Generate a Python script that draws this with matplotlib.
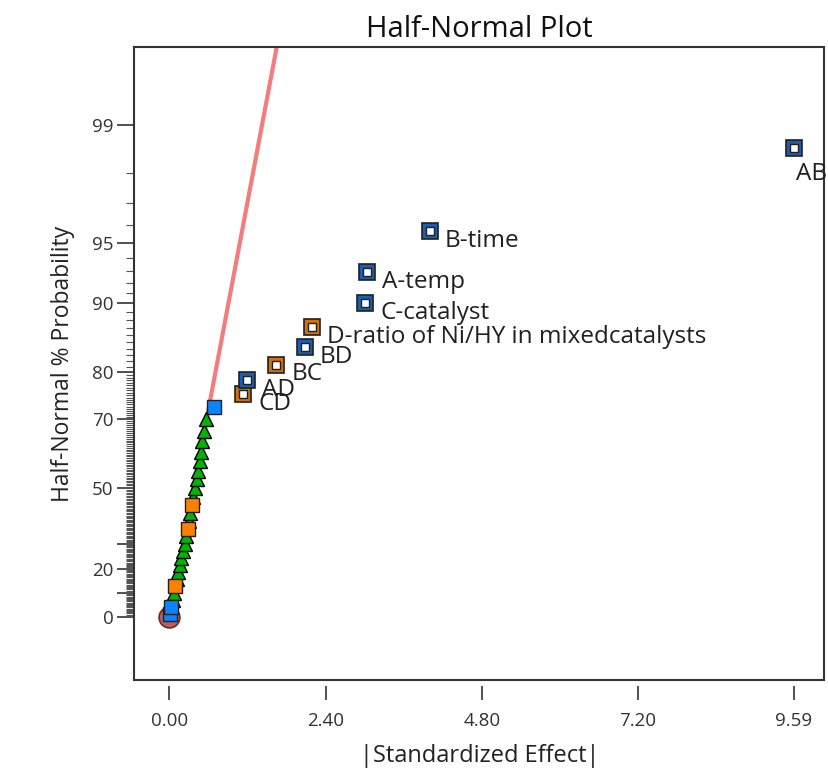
#---------------------HALF-NORMAL PLOT OF STANDARDIZED EFFECTS----------------------
import matplotlib
matplotlib.use("Agg")
import matplotlib.pyplot as plt
from statistics import NormalDist

#|standardized effect| of every term, smallest first
effect = [0.015, 0.02, 0.05, 0.07, 0.09, 0.115, 0.14, 0.16, 0.185, 0.21,
	0.235, 0.26, 0.285, 0.305, 0.325, 0.345, 0.37, 0.395, 0.42, 0.445,
	0.47, 0.49, 0.51, 0.535, 0.56, 0.69, 1.13, 1.19, 1.64, 2.08,
	2.19, 3.01, 3.03, 4.00, 9.59]

#half-normal % probability of each term
prob = [1.4, 4.3, 7.1, 10.0, 12.9, 15.7, 18.6, 21.4, 24.3, 27.1,
	30.0, 32.9, 35.7, 38.6, 41.4, 44.3, 47.1, 50.0, 52.9, 55.7,
	58.6, 61.4, 64.3, 67.1, 70.0, 72.9, 75.7, 78.6, 81.4, 84.3,
	87.1, 90.0, 92.9, 95.7, 98.6]

#neg = negative effect, pos = positive effect, err = error estimate
kind = ["neg", "neg", "err", "err", "pos", "err", "err", "err", "err", "err",
	"err", "err", "pos", "err", "err", "pos", "err", "err", "err", "err",
	"err", "err", "err", "err", "err", "neg", "pos", "neg", "pos", "neg",
	"pos", "neg", "neg", "neg", "neg"]

labels = [""] * 26 + ["CD", "AD", "BC", "BD", "D-ratio of Ni/HY in mixedcatalysts",
	"C-catalyst", "A-temp", "B-time", "AB"]

fit_slope = 1.81   # line through the error estimates

major_p = [0, 10, 20, 30, 50, 70, 80, 90, 95, 99]
major_lab = ["0", "", "20", "", "50", "70", "80", "90", "95", "99"]
#fine ticks: half percent below 80, whole percent above
minor_p = [k / 2.0 for k in range(1, 160)] + list(range(80, 99))
minor_p = [p for p in minor_p if p not in major_p]

x_ticks = [0.00, 2.40, 4.80, 7.20, 9.59]


def hn(p):
	# half-normal quantile of a percent probability
	return NormalDist().inv_cdf(0.5 + p / 200.0)


plt.rcParams['font.family'] = ['Open Sans', 'DejaVu Sans']

fig = plt.figure(figsize=(8.29, 7.74), dpi=100)
ax = fig.add_axes([0.1622, 0.1214, 0.832, 0.8179])

xmin, xmax = -0.535, 10.06
ymin, ymax = -0.33, 2.987
ax.set_xlim(xmin, xmax)
ax.set_ylim(ymin, ymax)

# fitted line
ax.plot([0, ymax / fit_slope], [0, ymax], color="#f47c7c", lw=3, zorder=2)

# origin marker
ax.plot(0, 0, "o", ms=15, mfc="#b5605f", mec="#6e2a2a", mew=1.2, zorder=3)

blue_fill = "#0a84ff"
orange_fill = "#ff8000"
blue_dark = "#1a5faf"
orange_dark = "#d2700a"

for i in range(len(effect)):
	x = effect[i]
	y = hn(prob[i])
	if labels[i] != "":
		outer = blue_dark if kind[i] == "neg" else orange_dark
		ax.plot(x, y, "s", ms=11, mfc=outer, mec="#202020", mew=1.2, zorder=5)
		ax.plot(x, y, "s", ms=5.5, mfc="white", mec="#202020", mew=1.0, zorder=6)
		if labels[i] == "AB":
			off = (2, -19)
		else:
			off = (11, -7)
		ax.annotate(labels[i], (x, y), xytext=off, textcoords="offset points",
			ha="left", va="center", fontsize=17.5, color="#202020", zorder=7)
	elif kind[i] == "err":
		ax.plot(x, y, "^", ms=10.5, mfc="#00b400", mec="black", mew=1.0, zorder=4)
	else:
		col = blue_fill if kind[i] == "neg" else orange_fill
		ax.plot(x, y, "s", ms=9.5, mfc=col, mec="#202020", mew=1.0, zorder=5)

# y axis on the half-normal scale
ax.set_yticks([hn(p) for p in major_p])
ax.set_yticklabels(major_lab)
ax.set_yticks([hn(p) for p in minor_p], minor=True)
ax.tick_params(axis="y", which="major", length=12, width=1.2, pad=3, labelsize=13.5, colors="#333333")
ax.tick_params(axis="y", which="minor", length=6, width=0.8, colors="#555555")

# x axis ticks sit a little away from the box
ax.set_xticks(x_ticks)
ax.set_xticklabels(["%.2f" % t for t in x_ticks])
ax.spines['bottom'].set_position(('outward', 4))
ax.spines['bottom'].set_visible(False)
ax.plot([0, 1], [0, 0], transform=ax.transAxes, color="#333333", lw=1.5, clip_on=False, zorder=10)
ax.tick_params(axis="x", length=10, width=1.2, pad=9, labelsize=13.5, colors="#333333")

for s in ["left", "right", "top"]:
	ax.spines[s].set_color("#333333")
	ax.spines[s].set_linewidth(1.5)

ax.set_title("Half-Normal Plot", fontsize=21, pad=7, color="#111111")
ax.set_xlabel("|Standardized Effect|", fontsize=17, labelpad=10, color="#222222")
ax.set_ylabel("Half-Normal % Probability", fontsize=16.5, labelpad=12, color="#222222")

fig.savefig("out.png", dpi=100)
